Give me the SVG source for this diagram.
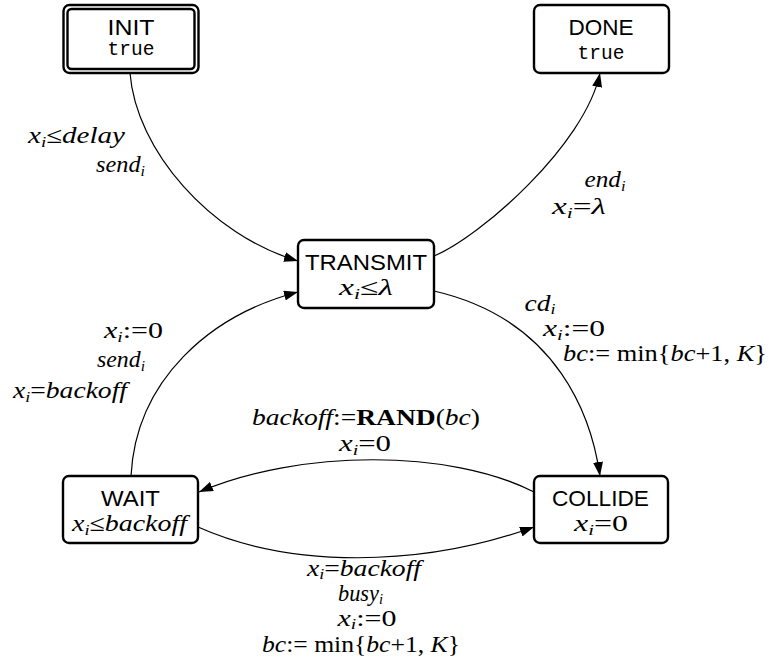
<svg xmlns="http://www.w3.org/2000/svg" width="771" height="668" viewBox="0 0 771 668">
<defs>
<style>
.box{fill:#fff;stroke:#000;stroke-width:2.4}
.nm{font-family:"Liberation Sans",Arial,sans-serif;font-size:21.5px;text-anchor:middle}
.tt{font-family:"Liberation Mono","Courier New",monospace;font-size:19.5px;text-anchor:middle}
.m{font-family:"Liberation Serif","Times New Roman",serif;font-size:23px;text-anchor:middle}
.it{font-style:italic}
.s{font-style:italic;font-size:15px}
.bf{font-weight:bold}
.edge{fill:none;stroke:#000;stroke-width:1.2;marker-end:url(#arr)}
</style>
<marker id="arr" viewBox="0 0 14 10" markerWidth="14" markerHeight="10" refX="14" refY="5" orient="auto" markerUnits="userSpaceOnUse"><path d="M0,0 L14,5 L0,10 z" fill="#000"/></marker>
</defs>
<rect width="771" height="668" fill="#fff"/>

<g id="connectors">
<path class="edge" d="M130,73 C136,150 210,235 298,261"/>
<path class="edge" d="M434,256 C480,237 585,145 600,73"/>
<path class="edge" d="M434,291 C560,320 592,420 600,476"/>
<path class="edge" d="M534,492 C450,449 300,449 199,492"/>
<path class="edge" d="M198,527 C290,568 420,568 534,527"/>
<path class="edge" d="M131,476 C136,380 210,315 298,292"/>
</g>

<g id="labels">
<text class="m" x="76.5" y="143" textLength="97" lengthAdjust="spacingAndGlyphs"><tspan class="it">x</tspan><tspan class="s" dy="3.5">i</tspan><tspan dy="-3.5">≤</tspan><tspan class="it">delay</tspan></text>
<text class="m" x="120.5" y="172" textLength="49" lengthAdjust="spacingAndGlyphs"><tspan class="it">send</tspan><tspan class="s" dy="3.5">i</tspan></text>
<text class="m" x="605" y="187" textLength="41" lengthAdjust="spacingAndGlyphs"><tspan class="it">end</tspan><tspan class="s" dy="3.5">i</tspan></text>
<text class="m" x="579" y="214" textLength="54" lengthAdjust="spacingAndGlyphs"><tspan class="it">x</tspan><tspan class="s" dy="3.5">i</tspan><tspan dy="-3.5">=</tspan><tspan class="it">λ</tspan></text>
<text class="m" x="540" y="311" textLength="31" lengthAdjust="spacingAndGlyphs"><tspan class="it">cd</tspan><tspan class="s" dy="3">i</tspan></text>
<text class="m" x="574" y="336" textLength="62" lengthAdjust="spacingAndGlyphs"><tspan class="it">x</tspan><tspan class="s" dy="3.5">i</tspan><tspan dy="-3.5">:=0</tspan></text>
<text class="m" x="665" y="361" textLength="204" lengthAdjust="spacingAndGlyphs"><tspan class="it">bc</tspan>:= min{<tspan class="it">bc</tspan>+1, <tspan class="it">K</tspan>}</text>
<text class="m" x="133.5" y="338" textLength="59" lengthAdjust="spacingAndGlyphs"><tspan class="it">x</tspan><tspan class="s" dy="3.5">i</tspan><tspan dy="-3.5">:=0</tspan></text>
<text class="m" x="121" y="367" textLength="48" lengthAdjust="spacingAndGlyphs"><tspan class="it">send</tspan><tspan class="s" dy="3.5">i</tspan></text>
<text class="m" x="70" y="398" textLength="114" lengthAdjust="spacingAndGlyphs"><tspan class="it">x</tspan><tspan class="s" dy="3.5">i</tspan><tspan dy="-3.5">=</tspan><tspan class="it">backoff</tspan></text>
<text class="m" x="366" y="425" textLength="228" lengthAdjust="spacingAndGlyphs"><tspan class="it">backoff</tspan>:=<tspan class="bf">RAND</tspan>(<tspan class="it">bc</tspan>)</text>
<text class="m" x="365" y="451" textLength="52" lengthAdjust="spacingAndGlyphs"><tspan class="it">x</tspan><tspan class="s" dy="3.5">i</tspan><tspan dy="-3.5">=0</tspan></text>
<text class="m" x="364" y="576" textLength="114" lengthAdjust="spacingAndGlyphs"><tspan class="it">x</tspan><tspan class="s" dy="3">i</tspan><tspan dy="-3">=</tspan><tspan class="it">backoff</tspan></text>
<text class="m" x="360.5" y="601" textLength="45" lengthAdjust="spacingAndGlyphs"><tspan class="it">busy</tspan><tspan class="s" dy="3">i</tspan></text>
<text class="m" x="367" y="626" textLength="59" lengthAdjust="spacingAndGlyphs"><tspan class="it">x</tspan><tspan class="s" dy="3">i</tspan><tspan dy="-3">:=0</tspan></text>
<text class="m" x="361" y="652" textLength="198" lengthAdjust="spacingAndGlyphs"><tspan class="it">bc</tspan>:= min{<tspan class="it">bc</tspan>+1, <tspan class="it">K</tspan>}</text>
</g>

<g id="INIT">
<rect class="box" x="63.5" y="5" width="135" height="68" rx="6"/>
<rect class="box" x="67.5" y="9" width="127" height="60" rx="4"/>
<text class="nm" x="131" y="35" textLength="47" lengthAdjust="spacingAndGlyphs">INIT</text>
<text class="tt" x="131" y="55">true</text>
</g>
<g id="DONE">
<rect class="box" x="534" y="5" width="135" height="68" rx="6"/>
<text class="nm" x="601" y="35" textLength="65" lengthAdjust="spacingAndGlyphs">DONE</text>
<text class="tt" x="601" y="59">true</text>
</g>
<g id="TRANSMIT">
<rect class="box" x="298" y="240" width="136" height="68" rx="6"/>
<text class="nm" x="366" y="270" textLength="122" lengthAdjust="spacingAndGlyphs">TRANSMIT</text>
<text class="m" x="366" y="295" textLength="54" lengthAdjust="spacingAndGlyphs"><tspan class="it">x</tspan><tspan class="s" dy="3.5">i</tspan><tspan dy="-3.5">≤</tspan><tspan class="it">λ</tspan></text>
</g>
<g id="WAIT">
<rect class="box" x="63" y="476" width="135" height="67" rx="6"/>
<text class="nm" x="130.5" y="505.5" textLength="59" lengthAdjust="spacingAndGlyphs">WAIT</text>
<text class="m" x="129.5" y="531" textLength="115" lengthAdjust="spacingAndGlyphs"><tspan class="it">x</tspan><tspan class="s" dy="3.5">i</tspan><tspan dy="-3.5">≤</tspan><tspan class="it">backoff</tspan></text>
</g>
<g id="COLLIDE">
<rect class="box" x="534" y="476" width="134" height="67" rx="6"/>
<text class="nm" x="600.5" y="505.5" textLength="97" lengthAdjust="spacingAndGlyphs">COLLIDE</text>
<text class="m" x="601" y="531" textLength="54" lengthAdjust="spacingAndGlyphs"><tspan class="it">x</tspan><tspan class="s" dy="3.5">i</tspan><tspan dy="-3.5">=0</tspan></text>
</g>
</svg>
